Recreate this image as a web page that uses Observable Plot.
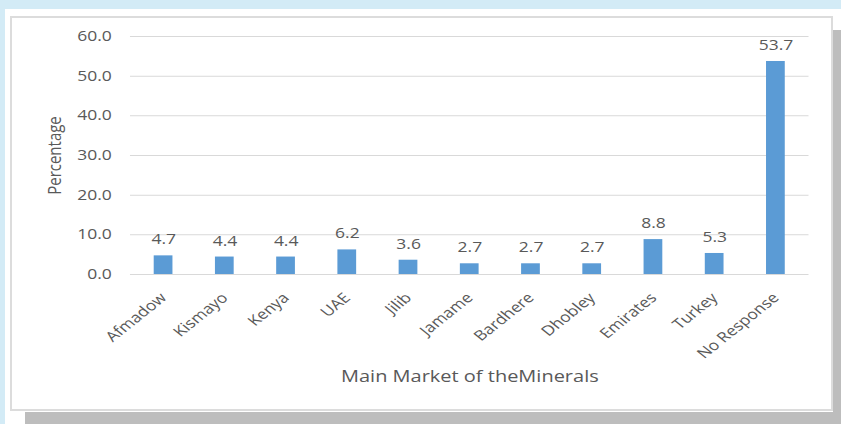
<!DOCTYPE html>
<html>
<head>
<meta charset="utf-8">
<script src="https://cdn.jsdelivr.net/npm/d3@7"></script>
<script src="https://cdn.jsdelivr.net/npm/@observablehq/plot@0.6"></script>
<style>
  html, body { margin: 0; padding: 0; }
  body { width: 841px; height: 424px; background: #d3ebf6; position: relative; overflow: hidden; font-family: "Open Sans", sans-serif; }
  #outer { position: absolute; left: 5px; top: 9px; right: 0; bottom: 0; background: #fff; }
  #shadowB { position: absolute; left: 25px; top: 412px; width: 816px; height: 12px; background: #bdbdbd; }
  #shadowR { position: absolute; left: 833px; top: 30px; width: 8px; height: 394px; background: #bdbdbd; }
  #panel { position: absolute; left: 10px; top: 16px; width: 819px; height: 391px; background: #fff; border: 2px solid #dcdcdc; }
  #chart { position: absolute; left: 0; top: 0; }
  #chart svg { display: block; }
</style>
</head>
<body>
<div id="outer"></div>
<div id="shadowB"></div>
<div id="shadowR"></div>
<div id="panel"></div>
<div id="chart"></div>
<script>
const categories = ["Afmadow", "Kismayo", "Kenya", "UAE", "Jilib", "Jamame", "Bardhere", "Dhobley", "Emirates", "Turkey", "No Response"];
const values = [4.7, 4.4, 4.4, 6.2, 3.6, 2.7, 2.7, 2.7, 8.8, 5.3, 53.7];
const yTicks = [0, 10, 20, 30, 40, 50, 60];

const data = categories.map((c, i) => ({market: c, value: values[i]}));

// The reference image is horizontally stretched; draw in a narrower space and stretch it.
const W = 673, H = 424, SW = 841;

const chart = Plot.plot({
  width: W,
  height: H,
  marginLeft: 104,
  marginRight: 26,
  marginTop: 36,
  marginBottom: 150,
  style: {background: "transparent", fontFamily: "Open Sans, sans-serif", fontSize: "14px", color: "#595959"},
  x: {domain: categories, paddingInner: 0.69, paddingOuter: 0.345, label: null},
  y: {domain: [0, 60], label: null},
  marks: [
    Plot.ruleY(yTicks, {stroke: "#d9d9d9", strokeWidth: 1}),
    Plot.barY(data, {x: "market", y: "value", fill: "#5b9bd5"}),
    Plot.text(data, {x: "market", y: "value", text: d => d.value.toFixed(1), dy: -16, fill: "#595959", fontSize: 14}),
    Plot.axisY({ticks: yTicks, tickFormat: d3.format(".1f"), tickSize: 0, tickPadding: 15, fontSize: 14, label: "Percentage", labelAnchor: "center", labelArrow: "none", labelOffset: 66}),
    Plot.axisX({tickSize: 0, tickPadding: 21, tickRotate: -45, fontSize: 14, label: "Main Market of theMinerals", labelAnchor: "center", labelArrow: "none", labelOffset: 107})
  ]
});
const yl = chart.querySelector("g[aria-label='y-axis label']");
if (yl) yl.setAttribute("font-size", 15);
const xl = chart.querySelector("g[aria-label='x-axis label']");
if (xl) xl.setAttribute("font-size", 16);
chart.setAttribute("width", SW);
chart.setAttribute("height", H);
chart.setAttribute("viewBox", `0 0 ${W} ${H}`);
chart.setAttribute("preserveAspectRatio", "none");
chart.style.maxWidth = "none";
chart.style.width = SW + "px";
chart.style.height = H + "px";
document.getElementById("chart").appendChild(chart);
</script>
</body>
</html>
